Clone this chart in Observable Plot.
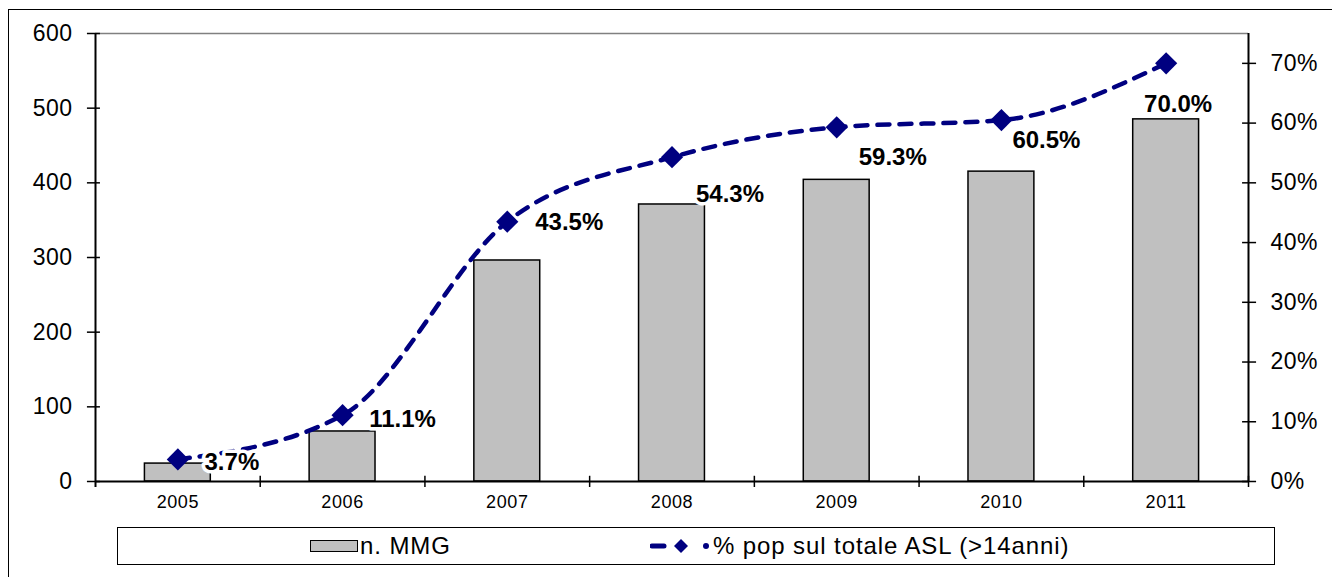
<!DOCTYPE html>
<html>
<head>
<meta charset="utf-8">
<script src="https://cdn.jsdelivr.net/npm/d3@7"></script>
<script src="https://cdn.jsdelivr.net/npm/@observablehq/plot@0.6"></script>
<style>
  html, body { margin: 0; padding: 0; background: #fff; width: 1332px; height: 577px; overflow: hidden; }
  body { position: relative; font-family: "Liberation Sans", Arial, sans-serif; }
  #frame { position: absolute; left: 8px; top: 9px; width: 1400px; height: 700px; border-left: 1.5px solid #000; border-top: 1.5px solid #000; }
  #chart { position: absolute; left: 0; top: 0; }
  #chart g[aria-label="y-axis tick label"] text { letter-spacing: 0.5px; }
  #chart g[aria-label="x-axis tick label"] text { letter-spacing: 0.6px; }
  #legend { position: absolute; left: 117px; top: 527px; width: 1158px; height: 38px; border: 1.5px solid #000; box-sizing: border-box; background: #fff; }
  #legend .item { position: absolute; top: 0; height: 35px; display: flex; align-items: center; font-size: 24px; letter-spacing: 0.9px; color: #000; }
  #legend .swatch { width: 46px; height: 10px; background: #c0c0c0; border: 1.5px solid #000; margin-right: 2px; }
</style>
</head>
<body>
<div id="frame"></div>
<div id="chart"></div>
<div id="legend">
  <div class="item" style="left:192px"><div class="swatch"></div><span>n. MMG</span></div>
  <div class="item" style="left:532px">
    <svg width="62" height="20" style="margin-right:1px">
      <line x1="2" y1="10" x2="14" y2="10" stroke="#000080" stroke-width="5" stroke-linecap="round"/>
      <path d="M31,3 L38,10 L31,17 L24,10 Z" fill="#000080"/>
      <circle cx="56" cy="10" r="3" fill="#000080"/>
    </svg>
    <span>% pop sul totale ASL (&gt;14anni)</span>
  </div>
</div>
<script>
// ---- data ----
const years = ["2005", "2006", "2007", "2008", "2009", "2010", "2011"];
const mmg = [24, 67, 296, 371, 404, 415, 485];          // n. MMG (left axis)
const pctPop = [3.7, 11.1, 43.5, 54.3, 59.3, 60.5, 70.0]; // % pop sul totale ASL (right axis)
const leftTicks = [0, 100, 200, 300, 400, 500, 600];
const rightTicks = [0, 10, 20, 30, 40, 50, 60, 70];

// label offsets (styling, px) for each data label
const labelOffsets = [[54, 3], [60, 4], [62, 1], [58, 37], [56, 30], [45, 20], [12, 41]];

const K = 600 / 75; // right axis 0–75% mapped onto left 0–600
const rows = years.map((y, i) => ({ i, year: y, mmg: mmg[i], pct: pctPop[i] }));
const font = "'Liberation Sans', Arial, sans-serif";

const labelMarks = rows.map((r, k) =>
  Plot.text([r], {
    x: d => d.i + 0.5, y: d => d.pct * K,
    text: d => d.pct.toFixed(1) + "%",
    dx: labelOffsets[k][0], dy: labelOffsets[k][1],
    fontSize: 24, fontWeight: "bold", fill: "#000",
    stroke: "#fff", strokeWidth: 7, paintOrder: "stroke"
  })
);

const chart = Plot.plot({
  width: 1332,
  height: 520,
  marginLeft: 95,
  marginRight: 84,
  marginTop: 33,
  marginBottom: 39,
  style: { fontFamily: font, background: "transparent", overflow: "visible" },
  x: { type: "linear", domain: [0, 7], axis: null },
  y: { domain: [0, 600], axis: null },
  marks: [
    // plot area top border
    Plot.ruleY([600], { x1: 0, x2: 7, stroke: "#808080", strokeWidth: 1.5 }),
    // bars
    Plot.rectY(rows, {
      x1: d => d.i + 0.3, x2: d => d.i + 0.7, y: "mmg",
      fill: "#c0c0c0", stroke: "#000", strokeWidth: 1.5
    }),
    // axis lines
    Plot.ruleY([0], { x1: 0, x2: 7, stroke: "#000", strokeWidth: 2 }),
    Plot.ruleX([0], { y1: -8, y2: 600, stroke: "#000", strokeWidth: 2 }),
    Plot.ruleX([7], { y1: 0, y2: 600, stroke: "#000", strokeWidth: 2 }),
    // tick marks
    Plot.ruleY(leftTicks, { x1: -0.049, x2: 0.03, stroke: "#000", strokeWidth: 1.5 }),
    Plot.ruleY(rightTicks.map(v => v * K), { x1: 7 - 0.036, x2: 7 + 0.049, stroke: "#000", strokeWidth: 1.5 }),
    Plot.ruleX(d3.range(1, 8), { y1: -8, y2: 7, stroke: "#000", strokeWidth: 1.5 }),
    // axes labels
    Plot.axisY(leftTicks, {
      anchor: "left", tickSize: 0, tickPadding: 23, fontSize: 23, fill: "#000", label: null,
      tickFormat: d => String(d)
    }),
    Plot.axisY(rightTicks.map(v => v * K), {
      anchor: "right", tickSize: 0, tickPadding: 22, fontSize: 23, fill: "#000", label: null,
      tickFormat: d => Math.round(d / K) + "%"
    }),
    Plot.axisX(years.map((_, i) => i + 0.5), {
      anchor: "bottom", tickSize: 0, tickPadding: 14, fontSize: 18, fill: "#000", label: null,
      tickFormat: d => years[Math.floor(d)]
    }),
    // line series
    Plot.line(rows, {
      x: d => d.i + 0.5, y: d => d.pct * K,
      stroke: "#000080", strokeWidth: 4.5, strokeDasharray: "12 10",
      strokeLinecap: "round", curve: "monotone-x"
    }),
    Plot.dot(rows, {
      x: d => d.i + 0.5, y: d => d.pct * K,
      symbol: "diamond2", r: 10, fill: "#000080", stroke: "none"
    }),
    ...labelMarks
  ]
});
document.getElementById("chart").append(chart);
</script>
</body>
</html>
